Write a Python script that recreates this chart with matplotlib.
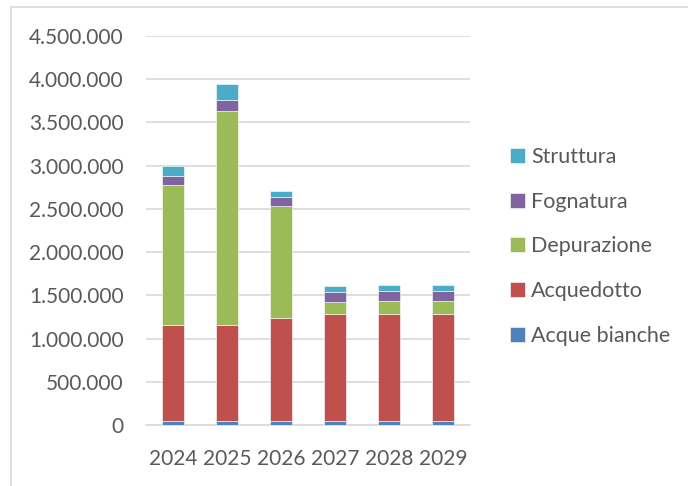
import matplotlib.pyplot as plt
from matplotlib.patches import Rectangle
from matplotlib.ticker import FuncFormatter

plt.rcParams['font.family'] = ['Lato', 'DejaVu Sans']

years = ['2024', '2025', '2026', '2027', '2028', '2029']
acque_bianche = [45000, 45000, 45000, 45000, 45000, 45000]
acquedotto = [1110000, 1115000, 1193000, 1240000, 1243000, 1243000]
depurazione = [1620000, 2475000, 1290000, 142000, 147000, 147000]
fognatura = [107000, 120000, 115000, 116000, 116000, 116000]
struttura = [116000, 190000, 66000, 66000, 69000, 69000]

series = [
    ('Acque bianche', acque_bianche, '#4F81BD'),
    ('Acquedotto', acquedotto, '#C0504D'),
    ('Depurazione', depurazione, '#9BBB59'),
    ('Fognatura', fognatura, '#8064A2'),
    ('Struttura', struttura, '#4BACC6'),
]

fig = plt.figure(figsize=(6.88, 4.86), dpi=100)
ax = fig.add_axes([146 / 688, 61 / 486, 324 / 688, 389 / 486])

# chart border (cropped at right/bottom)
fig.patches.append(Rectangle((10.5 / 688, -0.1), 1.2, (486 - 6.5) / 486 + 0.1,
                             transform=fig.transFigure, fill=False,
                             edgecolor='#d9d9d9', linewidth=1.2))

x = range(len(years))
bottom = [0] * len(years)
handles = []
for name, vals, col in series:
    b = ax.bar(x, vals, width=0.4, bottom=bottom, color=col, label=name,
               edgecolor='white', linewidth=0.4, zorder=3)
    handles.append(b)
    bottom = [a + v for a, v in zip(bottom, vals)]

ax.set_xlim(-0.5, 5.5)
ax.set_ylim(0, 4500000)
ax.set_yticks(range(0, 4500001, 500000))
ax.yaxis.set_major_formatter(FuncFormatter(lambda v, p: f'{int(v):,}'.replace(',', '.')))
ax.set_xticks(list(x))
ax.set_xticklabels(years)
ax.grid(axis='y', color='#d9d9d9', linewidth=1.2, zorder=0)
for s in ['top', 'right', 'left']:
    ax.spines[s].set_visible(False)
ax.spines['bottom'].set_color('#d9d9d9')
ax.spines['bottom'].set_linewidth(1.2)
ax.tick_params(axis='y', length=0, pad=16, labelsize=15, labelcolor='#595959')
ax.tick_params(axis='x', length=0, pad=17, labelsize=15, labelcolor='#595959')

leg = ax.legend(handles[::-1], [s[0] for s in series][::-1],
                loc='center left', bbox_to_anchor=(501 / 688, 239.5 / 486),
                bbox_transform=fig.transFigure, frameon=False, fontsize=15.5,
                labelcolor='#595959', handlelength=0.7, handleheight=0.7,
                handletextpad=0.3, labelspacing=1.15, borderaxespad=0)

fig.savefig('out.png', dpi=100)
